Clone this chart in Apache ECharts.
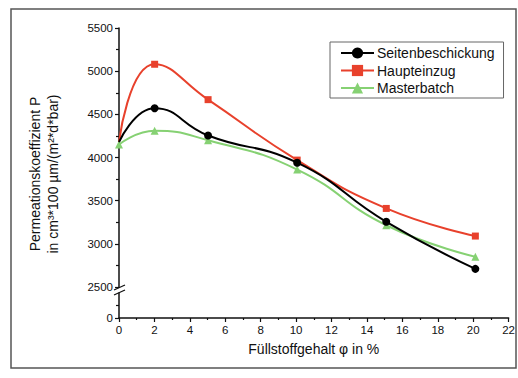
<!DOCTYPE html>
<html>
<head>
<meta charset="utf-8">
<script src="https://cdn.jsdelivr.net/npm/echarts@6/dist/echarts.min.js"></script>
<style>
  html, body { margin: 0; padding: 0; background: #fff; }
  #chart { width: 518px; height: 378px; }
</style>
</head>
<body>
<div id="chart"></div>
<script>
// Füllstoffgehalt in % (x positions of the measurements)
const fillerContent = [0, 2, 5, 10, 15, 20]

const seitenbeschickung = [4180, 4570, 4255, 3940, 3255, 2710]
const haupteinzug = [4185, 5080, 4670, 3970, 3410, 3090]
const masterbatch = [4150, 4310, 4200, 3860, 3215, 2850]

const seriesNames = ['Seitenbeschickung', 'Haupteinzug', 'Masterbatch']
const seriesColors = ['#000000', '#e8412c', '#86d173']
const seriesSymbols = ['circle', 'rect', 'triangle']

const xTicks = { min: 0, max: 22, interval: 2 }
const yTicks = { min: 2500, max: 5500, interval: 500 }

const font = 'Liberation Sans, Arial, sans-serif'

// the first point of black and red sits under the green marker, no symbol drawn there
const pairs = (vals, hideFirst) =>
  vals.map((v, i) => (hideFirst && i === 0 ? { value: [fillerContent[i], v], symbolSize: 0 } : [fillerContent[i], v]))

const chart = echarts.init(document.getElementById('chart'), null, { renderer: 'svg' })

const option = {
  backgroundColor: '#ffffff',
  animation: false,
  textStyle: { fontFamily: font },
  grid: [
    { left: 119, right: 7, top: 28, height: 259 },
    { left: 119, right: 7, top: 293, height: 25 },
  ],
  legend: {
    orient: 'vertical',
    left: 330,
    top: 42,
    padding: [4, 9, 3, 10],
    itemGap: 3.5,
    itemWidth: 33,
    itemHeight: 14,
    borderColor: '#666',
    borderWidth: 1,
    backgroundColor: '#fff',
    textStyle: { fontFamily: font, fontSize: 14, color: '#111', padding: [0, 0, 0, -2] },
    data: seriesNames,
  },
  xAxis: [
    {
      gridIndex: 0,
      type: 'value',
      min: xTicks.min,
      max: xTicks.max,
      interval: xTicks.interval,
      show: false,
    },
    {
      gridIndex: 1,
      type: 'value',
      min: xTicks.min,
      max: xTicks.max,
      interval: xTicks.interval,
      name: 'Füllstoffgehalt φ in %',
      nameLocation: 'middle',
      nameGap: 24,
      nameTextStyle: { fontFamily: font, fontSize: 14, color: '#111' },
      axisLine: { lineStyle: { color: '#111', width: 1.5 } },
      axisTick: { length: 4, lineStyle: { color: '#111', width: 1.2 } },
      minorTick: { show: true, splitNumber: 2, length: 2, lineStyle: { color: '#111', width: 1.2 } },
      axisLabel: { fontFamily: font, fontSize: 11.5, color: '#111', margin: 6 },
      splitLine: { show: false },
    },
  ],
  yAxis: [
    {
      gridIndex: 0,
      type: 'value',
      min: yTicks.min,
      max: yTicks.max,
      interval: yTicks.interval,
      axisLine: { show: true, lineStyle: { color: '#111', width: 1.5 } },
      axisTick: { show: true, length: 4, lineStyle: { color: '#111', width: 1.2 } },
      minorTick: { show: true, splitNumber: 2, length: 3, lineStyle: { color: '#111', width: 1.2 } },
      axisLabel: { fontFamily: font, fontSize: 11.5, color: '#111', margin: 6, formatter: (v) => String(v) },
      splitLine: { show: false },
    },
    {
      gridIndex: 1,
      type: 'value',
      min: 0,
      max: 2,
      interval: 2,
      axisLine: { show: true, lineStyle: { color: '#111', width: 1.5 } },
      axisTick: { show: true, length: 4, customValues: [0], lineStyle: { color: '#111', width: 1.2 } },
      minorTick: { show: true, splitNumber: 2, length: 3, lineStyle: { color: '#111', width: 1.2 } },
      axisLabel: { fontFamily: font, fontSize: 11.5, color: '#111', margin: 6, customValues: [0] },
      splitLine: { show: false },
    },
  ],
  series: [seitenbeschickung, haupteinzug, masterbatch].map((vals, i) => ({
    name: seriesNames[i],
    type: 'line',
    xAxisIndex: 0,
    yAxisIndex: 0,
    data: pairs(vals, i < 2),
    smooth: 0.5,
    symbol: seriesSymbols[i],
    symbolSize: i === 1 ? 7 : 8,
    z: 3 - i,
    lineStyle: { color: seriesColors[i], width: 2 },
    itemStyle: { color: seriesColors[i] },
  })),
  graphic: [
    {
      type: 'rect',
      shape: { x: 11, y: 9, width: 505, height: 359 },
      style: { fill: 'none', stroke: '#555', lineWidth: 1.5 },
      silent: true,
    },
    {
      type: 'line',
      shape: { x1: 114, y1: 290, x2: 125, y2: 285 },
      style: { stroke: '#111', lineWidth: 1.3 },
    },
    {
      type: 'line',
      shape: { x1: 114, y1: 295, x2: 125, y2: 290 },
      style: { stroke: '#111', lineWidth: 1.3 },
    },
    {
      type: 'text',
      x: 44,
      y: 174,
      rotation: Math.PI / 2,
      style: {
        text: 'Permeationskoeffizient P\nin cm³*100 µm/(m²*d*bar)',
        font: '14px ' + font,
        fill: '#111',
        align: 'center',
        verticalAlign: 'middle',
        lineHeight: 18,
      },
    },
  ],
}

chart.setOption(option)
</script>
</body>
</html>
